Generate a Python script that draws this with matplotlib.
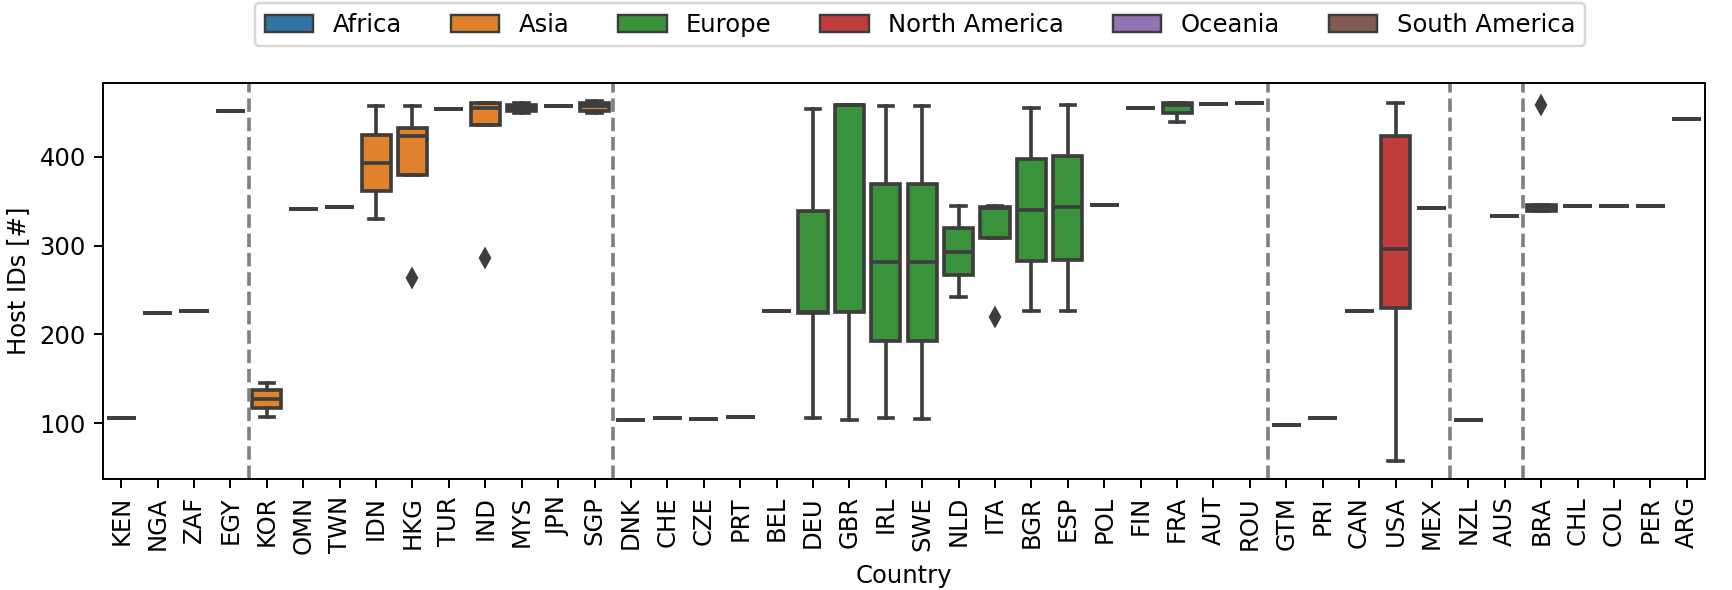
import matplotlib
matplotlib.use('Agg')
import matplotlib.pyplot as plt
from matplotlib.patches import Patch

countries = ['KEN', 'NGA', 'ZAF', 'EGY',
             'KOR', 'OMN', 'TWN', 'IDN', 'HKG', 'TUR', 'IND', 'MYS', 'JPN', 'SGP',
             'DNK', 'CHE', 'CZE', 'PRT', 'BEL', 'DEU', 'GBR', 'IRL', 'SWE', 'NLD',
             'ITA', 'BGR', 'ESP', 'POL', 'FIN', 'FRA', 'AUT', 'ROU',
             'GTM', 'PRI', 'CAN', 'USA', 'MEX',
             'NZL', 'AUS',
             'BRA', 'CHL', 'COL', 'PER', 'ARG']
continents = (['Africa'] * 4 + ['Asia'] * 10 + ['Europe'] * 18 +
              ['North America'] * 5 + ['Oceania'] * 2 + ['South America'] * 5)

whislo = [106, 224, 226.5, 451.5,
          106.7, 341, 343.5, 330, 380, 453.5, 435.5, 449, 457.5, 449,
          103.7, 105.2, 105, 106.7, 226, 106, 103.7, 105.5, 105, 241.7,
          309, 226.3, 226.3, 345.5, 455.5, 439, 460, 460.5,
          97.7, 105.6, 226.3, 57.2, 342.6,
          103.7, 333.3,
          339, 344.4, 344.4, 344.4, 442.3]
q1 = [106, 224, 226.5, 451.5,
      117, 341, 343.5, 361, 380, 453.5, 435.5, 452, 457.5, 452,
      103.7, 105.2, 105, 106.7, 226, 223.5, 225.5, 192.6, 192.4, 266.8,
      309, 283, 284, 345.5, 455.5, 449.5, 460, 460.5,
      97.7, 105.6, 226.3, 229.3, 342.6,
      103.7, 333.3,
      339, 344.4, 344.4, 344.4, 442.3]
med = [106, 224, 226.5, 451.5,
       127, 341, 343.5, 393, 423, 453.5, 455, 455, 457.5, 457,
       103.7, 105.2, 105, 106.7, 226, 225, 458, 281, 281, 293,
       342, 340.5, 343.6, 345.5, 455.5, 459, 460, 460.5,
       97.7, 105.6, 226.3, 295.7, 342.6,
       103.7, 333.3,
       344, 344.4, 344.4, 344.4, 442.3]
q3 = [106, 224, 226.5, 451.5,
      137, 341, 343.5, 425, 433, 453.5, 461, 458, 457.5, 461,
      103.7, 105.2, 105, 106.7, 226, 339, 459, 369, 369, 319.3,
      344, 398, 400.7, 345.5, 455.5, 461, 460, 460.5,
      97.7, 105.6, 226.3, 423, 342.6,
      103.7, 333.3,
      345.5, 344.4, 344.4, 344.4, 442.3]
whishi = [106, 224, 226.5, 451.5,
          145, 341, 343.5, 457, 457, 453.5, 461, 461, 457.5, 463,
          103.7, 105.2, 105, 106.7, 226, 454.5, 459, 457, 457.5, 344.4,
          345, 455, 459, 345.5, 455.5, 461, 460, 460.5,
          97.7, 105.6, 226.3, 460.3, 342.6,
          103.7, 333.3,
          345.5, 344.4, 344.4, 344.4, 442.3]
outliers = {'HKG': [263], 'IND': [285.5], 'ITA': [220], 'BRA': [459]}

continent_order = ['Africa', 'Asia', 'Europe', 'North America', 'Oceania', 'South America']
continent_colors = ['#3274a1', '#e1812c', '#3a923a', '#c03d3e', '#9372b2', '#845b53']
color_map = dict(zip(continent_order, continent_colors))
gray = '#3d3d3d'

DPI = 175
fig, ax = plt.subplots(figsize=(1733 / DPI, 590 / DPI), dpi=DPI)
fig.subplots_adjust(left=103 / 1733, right=1705 / 1733, top=1 - 83 / 590, bottom=1 - 479 / 590)

stats = []
for i, c in enumerate(countries):
    stats.append(dict(label=c, whislo=whislo[i], q1=q1[i], med=med[i], q3=q3[i],
                      whishi=whishi[i], fliers=outliers.get(c, [])))

bp = ax.bxp(stats, positions=list(range(len(countries))), widths=0.8, patch_artist=True,
            showfliers=True,
            boxprops=dict(edgecolor=gray, linewidth=1.5),
            whiskerprops=dict(color=gray, linewidth=1.5),
            capprops=dict(color=gray, linewidth=1.5),
            medianprops=dict(color=gray, linewidth=1.5),
            flierprops=dict(marker='d', markerfacecolor=gray, markeredgecolor=gray, markersize=5))
for patch, cont in zip(bp['boxes'], continents):
    patch.set_facecolor(color_map[cont])

for i in range(1, len(continents)):
    if continents[i] != continents[i - 1]:
        ax.axvline(i - 0.5, color='gray', linestyle='--', linewidth=1.5)

ax.set_xlim(-0.5, len(countries) - 0.5)
ax.set_xticks(list(range(len(countries))))
ax.set_xticklabels(countries, rotation=90)
ax.set_yticks([100, 200, 300, 400])
ax.set_xlabel('Country')
ax.set_ylabel('Host IDs [#]')

handles = [Patch(facecolor=color_map[c], edgecolor=gray, linewidth=1, label=c) for c in continent_order]
ax.legend(handles=handles, loc='upper center', bbox_to_anchor=(0.51, 1.233), ncol=6)

fig.savefig('out.png', dpi=DPI)
